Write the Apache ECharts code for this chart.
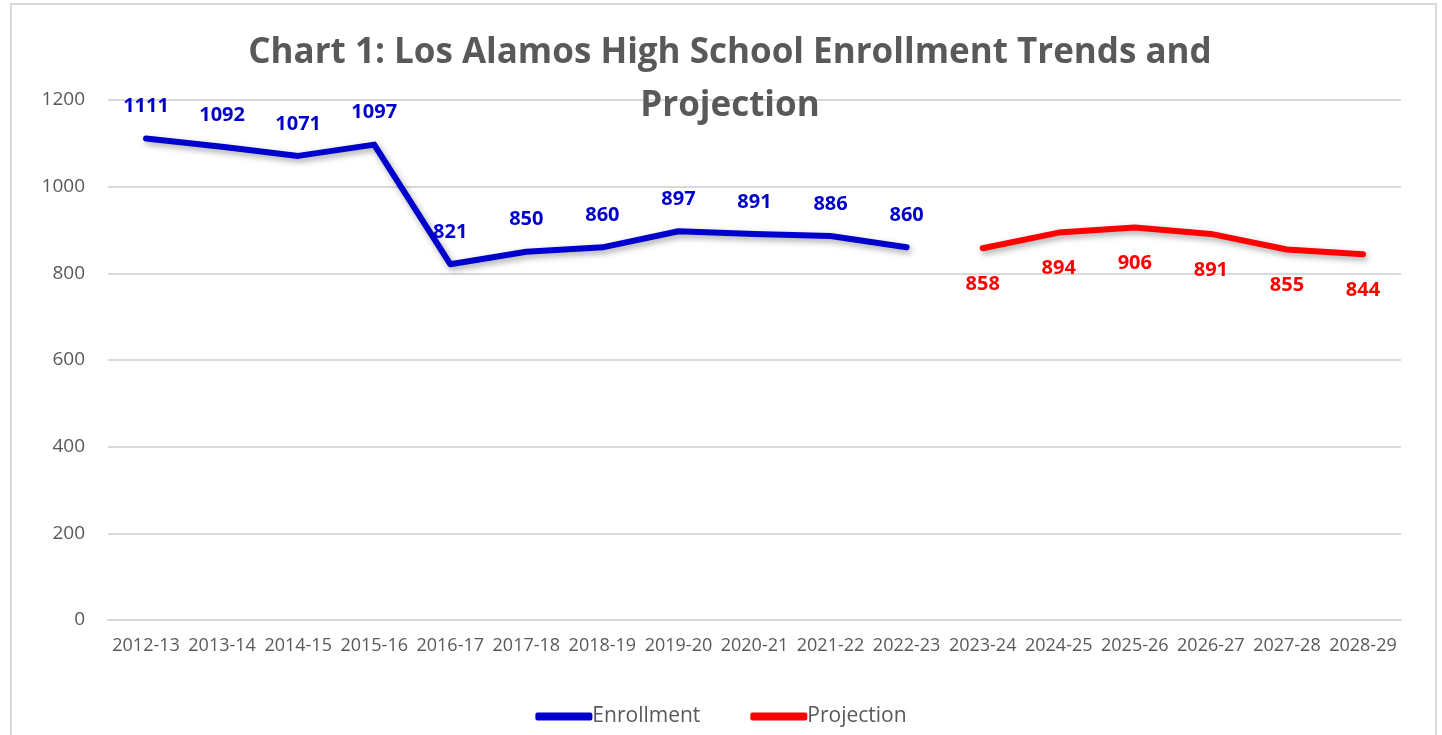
<!DOCTYPE html>
<html>
<head>
<meta charset="utf-8">
<script src="https://cdn.jsdelivr.net/npm/echarts@6/dist/echarts.min.js"></script>
<style>
  html, body { margin: 0; padding: 0; background: #fff; }
  #frame { position: absolute; left: 10px; top: 3px; width: 1427px; height: 740px; border: 2px solid #d9d9d9; box-sizing: border-box; }
  #chart { width: 1442px; height: 735px; position: absolute; left: 0; top: 0; }
</style>
</head>
<body>
<div id="frame"></div>
<div id="chart"></div>
<script>
var years = ['2012-13', '2013-14', '2014-15', '2015-16', '2016-17', '2017-18', '2018-19', '2019-20',
    '2020-21', '2021-22', '2022-23', '2023-24', '2024-25', '2025-26', '2026-27', '2027-28', '2028-29'];
// actual enrollment, then projection (gap where the other series runs)
var enrollment = [1111, 1092, 1071, 1097, 821, 850, 860, 897, 891, 886, 860, '-', '-', '-', '-', '-', '-'];
var projection = ['-', '-', '-', '-', '-', '-', '-', '-', '-', '-', '-', 858, 894, 906, 891, 855, 844];
var yTicks = { min: 0, max: 1200, interval: 200 };

var font = 'Open Sans';
var gray = '#595959';

var myChart = echarts.init(document.getElementById('chart'));

function lineSeries(name, values, color, labelPos, dist) {
    return {
        name: name,
        type: 'line',
        data: values,
        symbol: 'circle',
        symbolSize: 0,
        showSymbol: true,
        connectNulls: false,
        lineStyle: {
            color: color,
            width: 6,
            cap: 'round',
            join: 'round',
            shadowColor: 'rgba(0, 0, 0, 0.35)',
            shadowBlur: 6,
            shadowOffsetX: 2,
            shadowOffsetY: 3
        },
        itemStyle: { color: color },
        label: {
            show: true,
            position: labelPos,
            distance: dist,
            color: color,
            fontFamily: font,
            fontWeight: 'bold',
            fontSize: 20
        },
        labelLayout: { hideOverlap: false }
    };
}

var option = {
    animation: false,
    backgroundColor: 'transparent',
    title: {
        text: 'Chart 1: Los Alamos High School Enrollment Trends and\nProjection',
        left: 725,
        top: 22,
        textAlign: 'center',
        textStyle: {
            fontFamily: font,
            fontWeight: 'bold',
            fontSize: 35,
            lineHeight: 53,
            color: gray
        }
    },
    grid: { left: 108, right: 41, top: 100, bottom: 115, containLabel: false },
    xAxis: {
        type: 'category',
        data: years,
        boundaryGap: true,
        axisLine: { show: true, lineStyle: { color: '#d9d9d9', width: 2 } },
        axisTick: { show: false },
        axisLabel: { interval: 0, color: gray, fontFamily: font, fontSize: 18, margin: 17 }
    },
    yAxis: {
        type: 'value',
        min: yTicks.min,
        max: yTicks.max,
        interval: yTicks.interval,
        axisLine: { show: false },
        axisTick: { show: false },
        axisLabel: {
            color: gray, fontFamily: font, fontSize: 19, margin: 23,
            formatter: function(v) { return String(v); }
        },
        splitLine: { lineStyle: { color: '#d9d9d9', width: 2 } }
    },
    legend: {
        bottom: 3,
        left: 'center',
        itemWidth: 57,
        itemHeight: 8,
        itemGap: 50,
        icon: 'roundRect',
        textStyle: { color: gray, fontFamily: font, fontSize: 21, padding: [0, 0, 0, -5] },
        data: ['Enrollment', 'Projection']
    },
    series: [
        lineSeries('Enrollment', enrollment, '#0000cc', 'top', 22),
        lineSeries('Projection', projection, '#ff0000', 'bottom', 26)
    ]
};

myChart.setOption(option);
window.onresize = function() {
    myChart.resize();
};
</script>
</body>
</html>
